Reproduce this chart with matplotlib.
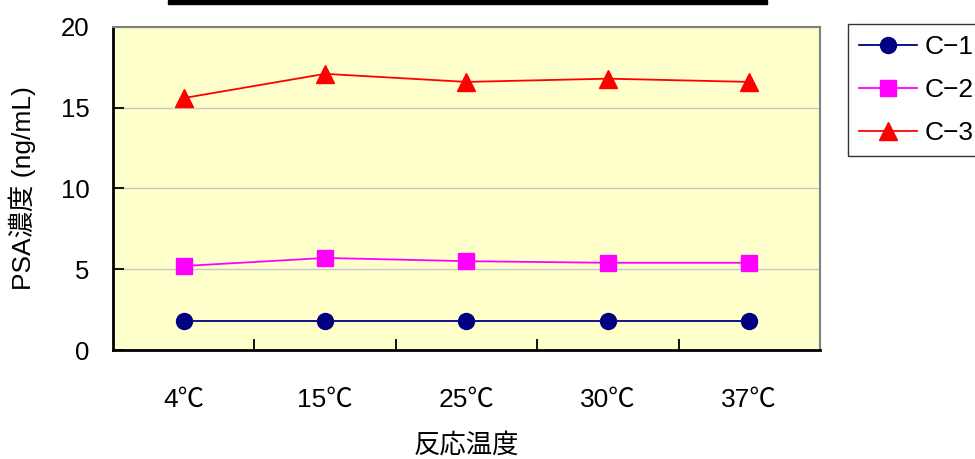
import matplotlib
matplotlib.use("Agg")
import matplotlib.pyplot as plt
from matplotlib.patches import Rectangle

plt.rcParams['font.family'] = ['Liberation Sans', 'Noto Sans CJK JP', 'DejaVu Sans']

categories = ["4℃", "15℃", "25℃", "30℃", "37℃"]
c1 = [1.8, 1.8, 1.8, 1.8, 1.8]
c2 = [5.2, 5.7, 5.5, 5.4, 5.4]
c3 = [15.6, 17.1, 16.6, 16.8, 16.6]
series_names = ["C−1", "C−2", "C−3"]
y_ticks = [0, 5, 10, 15, 20]

fig = plt.figure(figsize=(9.75, 4.59), dpi=100)
ax = fig.add_axes([113/975, 1-350/459, 707/975, 323/459])
ax.set_facecolor("#FFFFCC")

x = list(range(len(categories)))
ax.plot(x, c1, color="#000080", marker="o", markersize=11.5, lw=1.3, label=series_names[0])
ax.plot(x, c2, color="#FF00FF", marker="s", markersize=11.5, lw=1.3, label=series_names[1])
ax.plot(x, c3, color="#FF0000", marker="^", markersize=12.5, lw=1.3, label=series_names[2])

ax.set_xlim(-0.5, len(categories) - 0.5)
ax.set_ylim(0, 20)
ax.set_yticks(y_ticks)
ax.set_xticks(x)
ax.set_xticklabels(categories, fontsize=19)
ax.set_xticks([i + 0.5 for i in range(len(categories) - 1)], minor=True)
ax.tick_params(axis='x', which='major', length=0, pad=27)
ax.tick_params(axis='x', which='minor', direction='in', length=8, width=1.3, color='black')
ax.tick_params(axis='y', direction='in', length=8, width=1.3, labelsize=18.5, pad=17)
ax.yaxis.grid(True, color="#C8C8C8", lw=1)
ax.set_axisbelow(True)

for s in ['left', 'bottom']:
    ax.spines[s].set_color('black')
    ax.spines[s].set_linewidth(2)
for s in ['top', 'right']:
    ax.spines[s].set_color('#808080')
    ax.spines[s].set_linewidth(1.5)

ax.set_ylabel("PSA濃度 (ng/mL)", fontsize=19, labelpad=18)
ax.set_xlabel("反応温度", fontsize=19, labelpad=15)

leg = fig.legend(loc='upper left', bbox_to_anchor=(848/975, 1-24/459), fontsize=19,
                 frameon=True, fancybox=False, edgecolor='black', handlelength=2.2,
                 labelspacing=0.72, borderpad=0.42, handletextpad=0.3, borderaxespad=0)
leg.get_frame().set_linewidth(1)

fig.patches.append(Rectangle((168/975, 1-4/459), (767-168)/975, 4/459,
                             transform=fig.transFigure, color='black', zorder=10))

fig.savefig("out.png", dpi=100)
